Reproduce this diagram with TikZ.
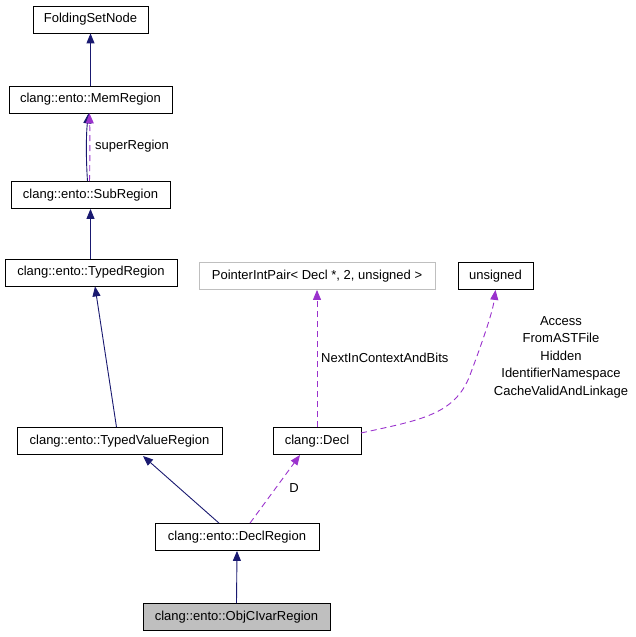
\documentclass[tikz,border=0pt]{standalone}
\usepackage{fontspec}
\setmainfont{Liberation Sans}
\usetikzlibrary{arrows.meta}
\definecolor{navy}{HTML}{191970}
\definecolor{purp}{HTML}{9A32CD}
\definecolor{lgray}{HTML}{BFBFBF}
\begin{document}
\begin{tikzpicture}[x=1pt,y=-1pt,
  box/.style={draw=black,line width=0.8pt,fill=white,minimum height=27pt,inner sep=0pt,font=\fontsize{13}{15}\selectfont},
  inh/.style={draw=navy,line width=0.9pt,-{Triangle[length=10pt,width=8pt,fill=navy]}},
  use/.style={draw=purp,line width=0.9pt,dash pattern=on 6pt off 4pt,-{Triangle[length=10pt,width=8pt,fill=purp]}},
  lbl/.style={font=\fontsize{13}{15}\selectfont,inner sep=1pt}]
\useasboundingbox (0,0) rectangle (635,637);
\node[box,minimum width=115pt] (fsn) at (90.5,19.5) {FoldingSetNode};
\node[box,minimum width=163pt] (mem) at (90.5,99.5) {clang::ento::MemRegion};
\node[box,minimum width=159pt] (sub) at (90.5,195) {clang::ento::SubRegion};
\node[box,minimum width=172pt] (typ) at (91,272.5) {clang::ento::TypedRegion};
\node[box,minimum width=205pt] (tvr) at (119.5,441) {clang::ento::TypedValueRegion};
\node[box,minimum width=88pt] (decl) at (317,441) {clang::Decl};
\node[box,minimum width=164pt] (dr) at (237,537) {clang::ento::DeclRegion};
\node[box,minimum width=187pt,fill=lgray] (obj) at (236.5,617) {clang::ento::ObjCIvarRegion};
\node[box,draw=lgray,minimum width=236pt] (pip) at (317,276) {PointerIntPair< Decl *, 2, unsigned >};
\node[box,minimum width=75pt] (uns) at (495.5,276) {unsigned};

\draw[inh] (mem.north) -- (fsn.south);
\draw[inh] ([xshift=-3pt]sub.north) .. controls (86,160) and (86,135) .. ([xshift=-2pt]mem.south);
\draw[use] ([xshift=-1pt]sub.north) .. controls (90,160) and (90,135) .. ([xshift=-1pt]mem.south);
\node[lbl,anchor=west] (lsr) at (94,146) {superRegion};
\draw[inh] (typ.north -| sub.south) -- (sub.south);
\draw[inh] ([xshift=-3pt]tvr.north) -- ([xshift=4pt]typ.south);
\coordinate (a1) at (219,523);
\draw[inh] (dr.north -| a1) -- (143,456);
\draw[use] (dr.north -| 250,0) -- (300,455);
\node[lbl] (ld) at (294,488) {D};
\draw[inh] (obj.north) -- (dr.south);
\draw[use] (decl.north) -- (pip.south);
\node[lbl,anchor=west] (lnx) at (320,358) {NextInContextAndBits};
\draw[use] (361,433) .. controls (420,420) and (455,415) .. (470,375) .. controls (485,335) and (493,310) .. (uns.south);
\node[lbl,align=center,font=\fontsize{13}{17.5}\selectfont] (lacc) at (561,357) {Access\\FromASTFile\\Hidden\\IdentifierNamespace\\CacheValidAndLinkage};
\end{tikzpicture}
\end{document}
